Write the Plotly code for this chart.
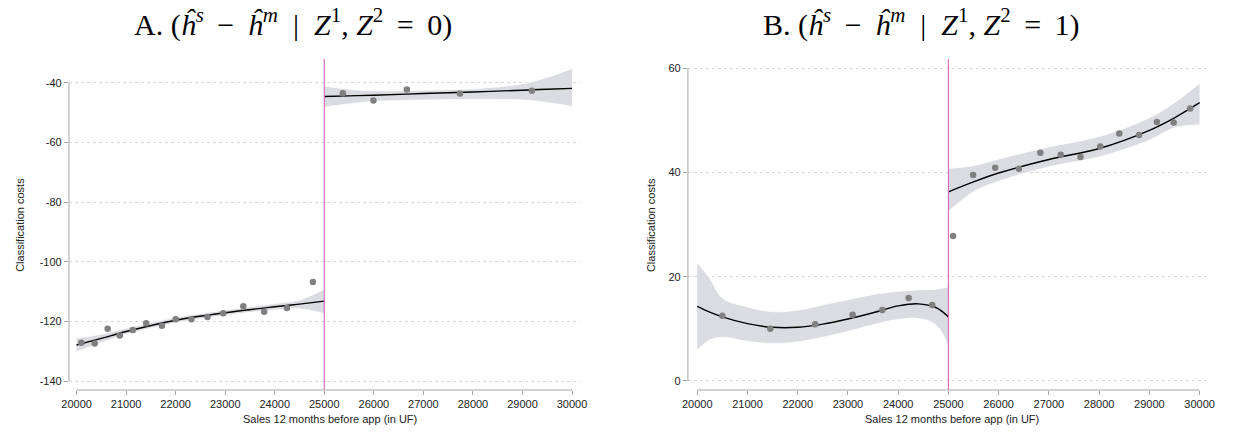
import plotly.graph_objects as go

# ---------------- data ----------------
# Panel A: Z2 = 0
a_bins_x = [20095, 20365, 20627, 20873, 21135, 21405, 21722, 22000, 22317, 22643,
            22960, 23365, 23786, 24246, 24770,
            25374, 25992, 26667, 27738, 29190]
a_bins_y = [-127.2, -127.4, -122.5, -124.7, -122.9, -120.6, -121.5, -119.3, -119.3, -118.5,
            -117.3, -114.9, -116.8, -115.5, -106.8,
            -43.5, -46.0, -42.3, -43.6, -42.7]

a_left_x = [20000, 20500, 21000, 22000, 23000, 24000, 24500, 25000]
a_left_fit = [-127.9, -125.7, -123.4, -119.6, -117.1, -115.1, -114.2, -113.2]
a_left_hi = [-125.6, -124.3, -122.3, -118.7, -116.2, -114.0, -112.8, -109.2]
a_left_lo = [-130.3, -127.1, -124.4, -120.5, -118.0, -116.2, -115.8, -117.4]

a_right_x = [25000, 25500, 26000, 27000, 28000, 29000, 29500, 30000]
a_right_fit = [-44.6, -44.4, -44.2, -43.6, -43.1, -42.5, -42.2, -41.9]
a_right_hi = [-41.1, -42.2, -42.7, -42.5, -42.0, -40.4, -38.2, -35.2]
a_right_lo = [-48.2, -47.1, -46.3, -45.8, -45.6, -45.8, -46.6, -48.0]

# Panel B: Z2 = 1
b_bins_x = [20500, 21454, 22347, 23093, 23685, 24208, 24677,
            25092, 25492, 25930, 26402, 26829, 27235, 27629, 28022, 28401, 28794,
            29149, 29483, 29812]
b_bins_y = [12.5, 10.0, 10.9, 12.7, 13.6, 15.9, 14.6,
            27.8, 39.5, 40.9, 40.7, 43.8, 43.4, 43.0, 45.0, 47.5, 47.2,
            49.7, 49.6, 52.3]

b_left_x = [20000, 20250, 20500, 21000, 21500, 22000, 22500, 23000, 23500, 24000, 24400, 24750, 25000]
b_left_fit = [14.3, 13.2, 12.3, 11.0, 10.3, 10.3, 10.9, 11.9, 13.1, 14.4, 14.8, 14.1, 12.3]
b_left_hi = [22.7, 19.7, 15.9, 14.2, 13.3, 13.6, 14.6, 15.6, 16.6, 17.2, 17.5, 17.6, 18.1]
b_left_lo = [5.9, 7.9, 8.4, 7.6, 7.2, 7.5, 8.4, 9.5, 10.8, 11.8, 12.0, 10.8, 6.6]

b_right_x = [25000, 25500, 26000, 27000, 28000, 29000, 29500, 30000]
b_right_fit = [36.3, 38.2, 39.9, 42.5, 44.6, 48.1, 50.5, 53.4]
b_right_hi = [40.8, 41.3, 42.6, 44.9, 46.9, 50.5, 53.4, 57.1]
b_right_lo = [32.5, 36.3, 38.3, 41.1, 43.0, 46.2, 48.6, 49.1]

a_yticks = [-140, -120, -100, -80, -60, -40]
a_yticklabels = ["-140", "-120", "-100", "-80", "-60", "-40"]
b_yticks = [0, 20, 40, 60]
b_yticklabels = ["0", "20", "40", "60"]
xticks = [20000, 21000, 22000, 23000, 24000, 25000, 26000, 27000, 28000, 29000, 30000]
xticklabels = ["20000", "21000", "22000", "23000", "24000", "25000",
               "26000", "27000", "28000", "29000", "30000"]
cutoff = 25000

TS = "\u2009"  # thin space, for TeX-like math spacing
title_a = ("A. (<i>ĥ</i><sup><i>s</i></sup>" + TS + " − " + TS + "<i>ĥ</i><sup><i>m</i></sup>  |  "
           "<i>Z</i><sup>1</sup>, <i>Z</i><sup>2</sup>" + TS + " = " + TS + "0)")
title_b = ("B. (<i>ĥ</i><sup><i>s</i></sup>" + TS + " − " + TS + "<i>ĥ</i><sup><i>m</i></sup>  |  "
           "<i>Z</i><sup>1</sup>, <i>Z</i><sup>2</sup>" + TS + " = " + TS + "1)")
x_title = "Sales 12 months before app (in UF)"
y_title = "Classification costs"

# ---------------- figure ----------------
# the page body margin is removed after plotting, so the figure fills the window
PAD = 0
W, H = 1233, 432
BAND = "rgb(219,220,225)"
MARK = "rgb(128,128,128)"
PINK = "rgb(214,110,196)"
AXC = "rgb(165,165,165)"
GRID = "rgb(215,215,215)"
SANS = "Liberation Sans, Arial, sans-serif"


def fx(px):
    return (px - PAD) / W


def fy(py):
    return 1 - (py - PAD) / H


fig = go.Figure()


def add_segment(xs, fit, hi, lo, xa, ya):
    fig.add_trace(go.Scatter(x=xs, y=hi, mode="lines", line=dict(width=0.8, color="white", shape="spline"),
                             xaxis=xa, yaxis=ya, showlegend=False, hoverinfo="skip"))
    fig.add_trace(go.Scatter(x=xs, y=lo, mode="lines", line=dict(width=0.8, color="white", shape="spline"),
                             fill="tonexty", fillcolor=BAND,
                             xaxis=xa, yaxis=ya, showlegend=False, hoverinfo="skip"))
    fig.add_trace(go.Scatter(x=xs, y=fit, mode="lines", line=dict(width=1.4, color="black", shape="spline"),
                             xaxis=xa, yaxis=ya, showlegend=False))


add_segment(a_left_x, a_left_fit, a_left_hi, a_left_lo, "x", "y")
add_segment(a_right_x, a_right_fit, a_right_hi, a_right_lo, "x", "y")
fig.add_trace(go.Scatter(x=a_bins_x, y=a_bins_y, mode="markers",
                         marker=dict(size=6.5, color=MARK), xaxis="x", yaxis="y", showlegend=False))

add_segment(b_left_x, b_left_fit, b_left_hi, b_left_lo, "x2", "y2")
add_segment(b_right_x, b_right_fit, b_right_hi, b_right_lo, "x2", "y2")
fig.add_trace(go.Scatter(x=b_bins_x, y=b_bins_y, mode="markers",
                         marker=dict(size=6.5, color=MARK), xaxis="x2", yaxis="y2", showlegend=False))

# plot-area pixel geometry (window pixels)
A_L, A_R = 61.7, 579.0
B_L, B_R = 688.3, 1215.0
TOP, BOT = 59.0, 390.0
ydom = [fy(BOT), fy(TOP)]

common_x = dict(tickmode="array", tickvals=xticks, ticktext=xticklabels, ticks="outside", ticklen=4,
                tickcolor=AXC, showgrid=False, zeroline=False, showline=False,
                tickfont=dict(family=SANS, size=11, color="#222"))
common_y = dict(tickmode="array", ticks="outside", ticklen=4, tickcolor=AXC,
                showgrid=True, gridcolor=GRID, griddash="dot", gridwidth=1,
                zeroline=False, showline=False,
                tickfont=dict(family=SANS, size=11, color="#222"))

fig.update_layout(
    width=W, height=H, margin=dict(l=0, r=0, t=0, b=0), autosize=False,
    paper_bgcolor="white", plot_bgcolor="white", showlegend=False,
    xaxis=dict(domain=[fx(A_L), fx(A_R)], range=[19846, 30160], anchor="y", **common_x),
    yaxis=dict(domain=ydom, range=[-143.0, -32.05], tickvals=a_yticks, ticktext=a_yticklabels,
               anchor="x", **common_y),
    xaxis2=dict(domain=[fx(B_L), fx(B_R)], range=[19815, 30171], anchor="y2", **common_x),
    yaxis2=dict(domain=ydom, range=[-1.73, 61.78], tickvals=b_yticks, ticktext=b_yticklabels,
                anchor="x2", **common_y),
)

shapes = []
for xr, yr, yt in (("x", "y", a_yticks), ("x2", "y2", b_yticks)):
    shapes.append(dict(type="line", xref=xr, yref=yr + " domain", x0=cutoff, x1=cutoff, y0=0, y1=1,
                       line=dict(color=PINK, width=1.2)))
    shapes.append(dict(type="line", xref=xr + " domain", yref=yr, x0=0, x1=0, y0=min(yt), y1=max(yt),
                       line=dict(color=AXC, width=1)))
    shapes.append(dict(type="line", xref=xr, yref=yr + " domain", x0=min(xticks), x1=max(xticks), y0=0, y1=0,
                       line=dict(color=AXC, width=1)))
fig.update_layout(shapes=shapes)

ann = []
for cx, t in ((289, title_a), (925, title_b)):
    ann.append(dict(text=t, x=fx(cx), y=fy(23), xref="paper", yref="paper", showarrow=False,
                    xanchor="center", yanchor="middle",
                    font=dict(family="Liberation Serif, Times New Roman, serif", size=30, color="black")))
for cx in ((A_L + A_R) / 2 + 6, (B_L + B_R) / 2 + 4):
    ann.append(dict(text=x_title, x=fx(cx), y=fy(419), xref="paper", yref="paper", showarrow=False,
                    xanchor="center", yanchor="middle", font=dict(family=SANS, size=11, color="#222")))
for cx in (12, 651):
    ann.append(dict(text=y_title, x=fx(cx), y=fy(225), xref="paper", yref="paper", showarrow=False,
                    textangle=-90, xanchor="center", yanchor="middle",
                    font=dict(family=SANS, size=11, color="#222")))
fig.update_layout(annotations=ann)

fig.write_html("out.html", config={"displayModeBar": False},
               post_script="document.body.style.margin='0';document.body.style.overflow='hidden';")
